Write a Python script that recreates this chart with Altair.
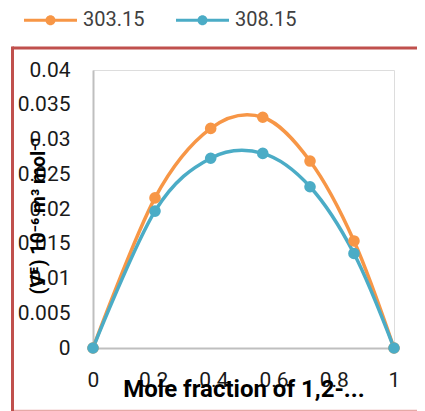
import altair as alt
import pandas as pd

series = ["303.15", "308.15"]
colors = ["#f79646", "#4bacc6"]
mole_fraction = [0, 0.206, 0.391, 0.564, 0.721, 0.867, 1]
v_303 = [0, 0.0216, 0.0316, 0.0332, 0.0269, 0.0154, 0]
v_308 = [0, 0.0197, 0.0273, 0.0280, 0.0232, 0.0136, 0]
x_ticks = [0, 0.2, 0.4, 0.6, 0.8, 1]
y_ticks = [0, 0.005, 0.01, 0.015, 0.02, 0.025, 0.03, 0.035, 0.04]

rows = []
for s, vals in zip(series, [v_303, v_308]):
    for i, (x, y) in enumerate(zip(mole_fraction, vals)):
        rows.append({"series": s, "x": x, "y": y, "order": i})
df = pd.DataFrame(rows)

FONT = "Roboto, 'DejaVu Sans', sans-serif"

x_enc = alt.X(
    "x:Q",
    scale=alt.Scale(domain=[0, 1], nice=False),
    axis=alt.Axis(
        values=x_ticks, format="~g", title="Mole fraction of 1,2-...",
        grid=False, ticks=False, domainColor="#bfbfbf", domainWidth=2,
        labelOverlap=False, labelFlush=False,
        labelFont=FONT, labelFontSize=21, labelColor="#1a1a1a", labelPadding=21,
        titleFont=FONT, titleFontSize=24, titleFontWeight="bold", titleColor="#000000",
        titleY=48, titleBaseline="alphabetic", titleAnchor="middle",
    ),
)
y_enc = alt.Y(
    "y:Q",
    scale=alt.Scale(domain=[0, 0.04], nice=False),
    axis=alt.Axis(
        values=y_ticks, format="~g", title="(Vᴱ) 10⁻⁶ m³ mol⁻¹",
        grid=False, ticks=False, domainColor="#bfbfbf", domainWidth=2,
        labelOverlap=False, labelFlush=False,
        labelFont=FONT, labelFontSize=21, labelColor="#1a1a1a", labelPadding=23,
        titleFont=FONT, titleFontSize=19.5, titleFontWeight="bold", titleColor="#000000",
        titleAngle=270, titleX=-49, titleY=145, titleAlign="center",
        titleBaseline="alphabetic",
    ),
)
color_scale = alt.Scale(domain=series, range=colors)

# line 53px wide (unit = 26.5px), 3px thick, 10px circle
legend_shape = ("M-1,-0.0566H1V0.0566H-1Z "
                "M0.189,0A0.189,0.189,0,1,1,-0.189,0A0.189,0.189,0,1,1,0.189,0Z")
legend = alt.Legend(
    title=None, orient="none", direction="horizontal",
    legendX=-69, legendY=-76.5, padding=0,
    symbolType=legend_shape, symbolSize=2809, symbolStrokeWidth=0,
    symbolOpacity=1,
    labelFont=FONT, labelFontSize=20, labelColor="#404040",
    labelOffset=6, columnPadding=31,
)

one = pd.DataFrame({"a": [0]})
frame_top = alt.Chart(one).mark_rule(color="#c0504d", strokeWidth=3).encode(
    x=alt.value(-80.5), x2=alt.value(360), y=alt.value(-22)
)
frame_left = alt.Chart(one).mark_rule(color="#c0504d", strokeWidth=3).encode(
    x=alt.value(-80.5), y=alt.value(-23.5), y2=alt.value(345)
)
frame_bottom = alt.Chart(one).mark_rule(color="#e6a9a7", strokeWidth=1.5).encode(
    x=alt.value(-79), x2=alt.value(360), y=alt.value(340.5)
)

lines = alt.Chart(df).mark_line(
    interpolate="cardinal", tension=0, strokeWidth=3.5
).encode(
    x=x_enc, y=y_enc,
    color=alt.Color("series:N", scale=color_scale, legend=legend),
    detail="series:N", order="order:Q",
)

points = alt.Chart(df).mark_point(filled=True, size=135, opacity=1).encode(
    x=x_enc, y=y_enc,
    color=alt.Color("series:N", scale=color_scale, legend=legend),
)

chart = alt.layer(frame_top, frame_left, frame_bottom, lines, points).properties(
    width=301, height=278,
    autosize=alt.AutoSizeParams(type="none"),
    padding={"left": 85, "top": 62, "right": 23, "bottom": 70},
).configure_view(stroke=None).configure(background="white")

chart.save("out.html", embed_options={"renderer": "svg", "actions": False})
